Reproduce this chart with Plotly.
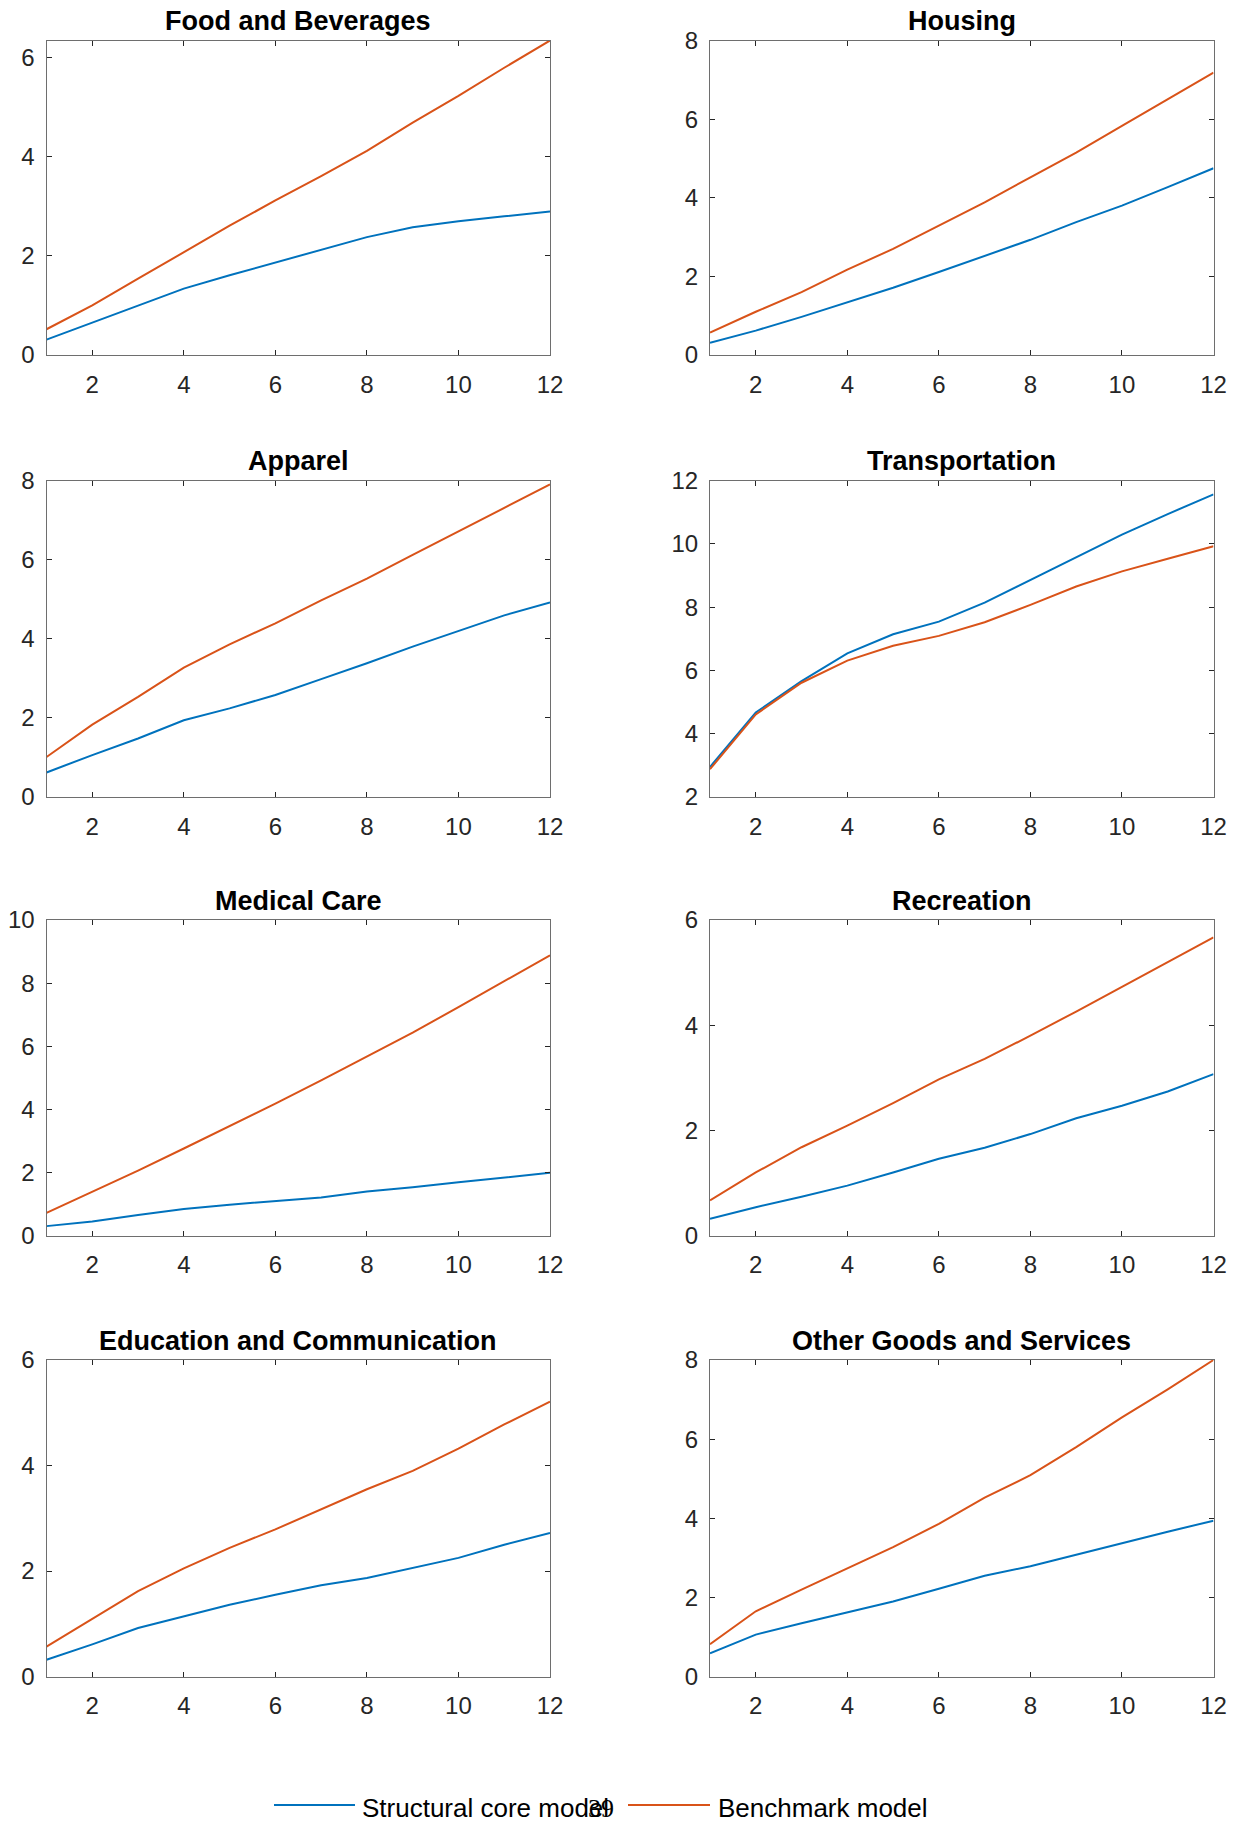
import plotly.graph_objects as go

months = list(range(1, 13))

titles = ["Food and Beverages", "Housing", "Apparel", "Transportation",
          "Medical Care", "Recreation", "Education and Communication",
          "Other Goods and Services"]

structural_food = [0.31, 0.65, 1.00, 1.34, 1.61, 1.87, 2.12, 2.38, 2.58, 2.70, 2.80, 2.90]
benchmark_food = [0.52, 1.00, 1.54, 2.08, 2.61, 3.12, 3.61, 4.12, 4.69, 5.23, 5.80, 6.35]

structural_housing = [0.31, 0.62, 0.97, 1.33, 1.71, 2.11, 2.52, 2.93, 3.38, 3.80, 4.27, 4.75]
benchmark_housing = [0.57, 1.10, 1.60, 2.17, 2.70, 3.29, 3.88, 4.52, 5.15, 5.83, 6.50, 7.18]

structural_apparel = [0.62, 1.06, 1.48, 1.94, 2.24, 2.58, 2.98, 3.38, 3.80, 4.20, 4.59, 4.92]
benchmark_apparel = [1.01, 1.83, 2.53, 3.27, 3.86, 4.39, 4.97, 5.52, 6.12, 6.71, 7.31, 7.90]

structural_transport = [2.95, 4.67, 5.66, 6.54, 7.14, 7.54, 8.14, 8.86, 9.57, 10.29, 10.94, 11.56]
benchmark_transport = [2.88, 4.61, 5.61, 6.31, 6.78, 7.09, 7.52, 8.07, 8.65, 9.13, 9.53, 9.92]

structural_medical = [0.30, 0.45, 0.65, 0.84, 0.98, 1.09, 1.21, 1.40, 1.53, 1.69, 1.83, 1.99]
benchmark_medical = [0.72, 1.38, 2.06, 2.76, 3.46, 4.18, 4.92, 5.68, 6.43, 7.24, 8.05, 8.88]

structural_recreation = [0.32, 0.54, 0.74, 0.95, 1.20, 1.46, 1.67, 1.93, 2.23, 2.47, 2.74, 3.07]
benchmark_recreation = [0.67, 1.20, 1.68, 2.09, 2.52, 2.97, 3.36, 3.80, 4.26, 4.73, 5.20, 5.67]

structural_education = [0.32, 0.61, 0.92, 1.14, 1.36, 1.55, 1.73, 1.87, 2.06, 2.25, 2.50, 2.72]
benchmark_education = [0.57, 1.09, 1.62, 2.05, 2.44, 2.79, 3.17, 3.55, 3.90, 4.32, 4.78, 5.21]

structural_other = [0.59, 1.06, 1.35, 1.63, 1.90, 2.22, 2.55, 2.79, 3.08, 3.38, 3.66, 3.94]
benchmark_other = [0.82, 1.65, 2.20, 2.73, 3.27, 3.86, 4.52, 5.09, 5.80, 6.55, 7.26, 8.00]

structural = [structural_food, structural_housing, structural_apparel, structural_transport,
              structural_medical, structural_recreation, structural_education, structural_other]
benchmark = [benchmark_food, benchmark_housing, benchmark_apparel, benchmark_transport,
             benchmark_medical, benchmark_recreation, benchmark_education, benchmark_other]

y_ranges = [[0, 6.35], [0, 8], [0, 8], [2, 12], [0, 10], [0, 6], [0, 6], [0, 8]]
y_dticks = [2, 2, 2, 2, 2, 2, 2, 2]
x_ticks = [2, 4, 6, 8, 10, 12]

BLUE = "#0072BD"
ORANGE = "#D95319"
AX = "#262626"
LINE = "#6e6e6e"
FONT = "Liberation Sans, Arial, sans-serif"

# the page body margin is removed by a small post-script, so figure == window
W, H = 1238, 1824


def px_x(x):
    return x / W


def px_y(y):
    return 1 - y / H


col_px = [(46.5, 550), (710, 1213.5)]
row_px = [(40.5, 355), (480.5, 797), (920, 1235.6), (1360, 1676.6)]
col_dom = [(px_x(a), px_x(b)) for a, b in col_px]
row_dom = [(px_y(b), px_y(t)) for t, b in row_px]

fig = go.Figure()
layout = {}
annotations = []
for i in range(8):
    r, c = divmod(i, 2)
    n = i + 1
    xa = "x" if n == 1 else f"x{n}"
    ya = "y" if n == 1 else f"y{n}"
    fig.add_trace(go.Scatter(x=months, y=structural[i], mode="lines",
                             line=dict(color=BLUE, width=2),
                             name="Structural core model", showlegend=False,
                             xaxis=xa, yaxis=ya))
    fig.add_trace(go.Scatter(x=months, y=benchmark[i], mode="lines",
                             line=dict(color=ORANGE, width=2),
                             name="Benchmark model", showlegend=False,
                             xaxis=xa, yaxis=ya))
    axis_common = dict(showline=True, linecolor=LINE, linewidth=1, mirror="ticks",
                       ticks="inside", ticklen=5, tickcolor=AX, tickwidth=1,
                       showgrid=False, zeroline=False, automargin=False,
                       tickfont=dict(family=FONT, size=24, color=AX))
    layout["xaxis" if n == 1 else f"xaxis{n}"] = dict(
        domain=list(col_dom[c]), anchor=ya, range=[1, 12],
        tickvals=x_ticks, ticklabelstandoff=8, **axis_common)
    layout["yaxis" if n == 1 else f"yaxis{n}"] = dict(
        domain=list(row_dom[r]), anchor=xa, range=y_ranges[i],
        tick0=0, dtick=y_dticks[i], ticklabelstandoff=6, **axis_common)
    annotations.append(dict(
        text=f"<b>{titles[i]}</b>", xref="paper", yref="paper",
        x=(col_dom[c][0] + col_dom[c][1]) / 2, y=row_dom[r][1],
        xanchor="center", yanchor="bottom", yshift=2, showarrow=False,
        font=dict(family=FONT, size=27, color="black")))

# legend drawn at the bottom
legend_line_y = px_y(1805)
legend_text_y = px_y(1808)
annotations.append(dict(text="Structural core model", xref="paper", yref="paper",
                        x=px_x(360), y=legend_text_y, xanchor="left", yanchor="middle",
                        showarrow=False, font=dict(family=FONT, size=26, color="black")))
annotations.append(dict(text="Benchmark model", xref="paper", yref="paper",
                        x=px_x(716), y=legend_text_y, xanchor="left", yanchor="middle",
                        showarrow=False, font=dict(family=FONT, size=26, color="black")))
annotations.append(dict(text="39", xref="paper", yref="paper",
                        x=px_x(601), y=px_y(1808), xanchor="center", yanchor="middle",
                        showarrow=False,
                        font=dict(family="Liberation Serif, Times New Roman, serif",
                                  size=26, color="black")))
shapes = [
    dict(type="line", xref="paper", yref="paper", x0=px_x(274), x1=px_x(355),
         y0=legend_line_y, y1=legend_line_y, line=dict(color=BLUE, width=2)),
    dict(type="line", xref="paper", yref="paper", x0=px_x(628), x1=px_x(710),
         y0=legend_line_y, y1=legend_line_y, line=dict(color=ORANGE, width=2)),
]

fig.update_layout(width=W, height=H, margin=dict(l=0, r=0, t=0, b=0),
                  paper_bgcolor="white", plot_bgcolor="white",
                  annotations=annotations, shapes=shapes, showlegend=False,
                  **layout)

fig.write_html(
    "out.html",
    config={"displayModeBar": False},
    post_script="document.body.style.margin='0px';"
                "document.body.style.padding='0px';"
                "document.body.style.overflow='hidden';",
)
